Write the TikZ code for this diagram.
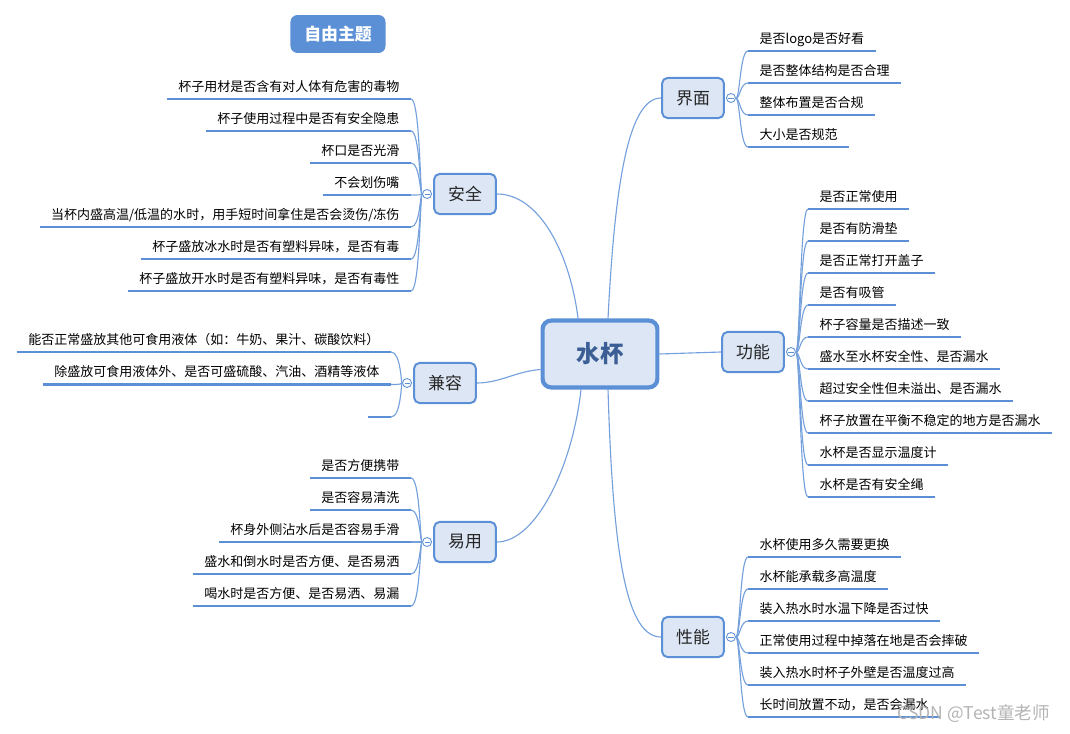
\documentclass[tikz,border=0pt]{standalone}
\usepackage{fontspec}
\setmainfont{Noto Sans CJK SC}
\usepackage{xcolor}
\usetikzlibrary{positioning}

\definecolor{boxfill}{HTML}{DCE6F4}
\definecolor{boxline}{HTML}{5B8FD6}
\definecolor{roottext}{HTML}{3B5E94}
\definecolor{marktext}{HTML}{B4B4B4}

\begin{document}
\begin{tikzpicture}[
    x=0.025cm, y=-0.025cm,
    root/.style={draw=boxline, line width=3pt, fill=boxfill, rounded corners=6pt,
      minimum width=81.6pt, minimum height=47.5pt, text=roottext,
      font=\fontsize{16.7}{20}\selectfont\bfseries},
    topic/.style={draw=boxline, line width=1.4pt, fill=boxfill, rounded corners=4pt,
      minimum width=44pt, minimum height=28.6pt, text=black!85,
      font=\fontsize{12}{14}\selectfont},
    theme/.style={fill=boxline, rounded corners=5pt, minimum width=67.6pt,
      minimum height=27pt, text=white, font=\fontsize{12}{14}\selectfont\bfseries},
    item/.style={inner xsep=8pt, inner ysep=0pt, text height=7pt, text depth=5.3pt,
      font=\fontsize{9.25}{11}\selectfont},
    uline/.style={draw=boxline, line width=2pt},
    link/.style={draw=boxline!85, line width=0.8pt},
    fold/.style={circle, draw=boxline, fill=white, line width=0.6pt, minimum size=6.4pt,
      inner sep=0pt, path picture={\draw[boxline, line width=0.5pt]
        ([xshift=-1.8pt]path picture bounding box.center) --
        ([xshift=1.8pt]path picture bounding box.center);}},
    watermark/.style={text=marktext, font=\fontsize{12.5}{14}\selectfont}
]
\useasboundingbox (0,0) rectangle (1070,734);

% Theme and root
\node[theme] (free) at (338,34) {自由主题};
\node[root] (root) at (600,354) {水杯};

% Main topics
\node[topic] (safe) at (465,194) {安全};
\node[topic] (compat) at (445,383) {兼容};
\node[topic] (easy) at (465,542) {易用};
\node[topic] (ui) at (693,98) {界面};
\node[topic] (func) at (753,352) {功能};
\node[topic] (perf) at (693,637) {性能};

% Fold markers
\node[fold, left=0.8pt of safe] (safef) {};
\node[fold, left=0.8pt of compat] (compatf) {};
\node[fold, left=0.8pt of easy] (easyf) {};
\node[fold, right=0.8pt of ui] (uif) {};
\node[fold, right=0.8pt of func] (funcf) {};
\node[fold, right=0.8pt of perf] (perff) {};

% Root to topics
\draw[link] ([xshift=5.7pt]root.north) .. controls +(7,-139) and +(-32,0) .. (ui.west);
\draw[link] ([xshift=-15.6pt]root.north) .. controls +(-8,-64) and +(43,0) .. (safe.east);
\draw[link] ([yshift=-11pt]root.west) .. controls +(-25,2) and +(23,0) .. (compat.east);
\draw[link] ([xshift=-13.5pt]root.south) .. controls +(-9,80) and +(38,0) .. (easy.east);
\draw[link] ([xshift=5.7pt]root.south) .. controls +(5,170) and +(-34,0) .. (perf.west);
\draw[link] (root.east) -- (func.west);

% Safety items
\foreach \txt [count=\i] in {杯子用材是否含有对人体有危害的毒物, 杯子使用过程中是否有安全隐患,
    杯口是否光滑, 不会划伤嘴, 当杯内盛高温/低温的水时，用手短时间拿住是否会烫伤/冻伤,
    杯子盛放冰水时是否有塑料异味，是否有毒, 杯子盛放开水时是否有塑料异味，是否有毒性} {
  \node[item, anchor=south east] (safe\i) at (411,67+32*\i) {\txt};
  \draw[uline] (safe\i.south west) -- (safe\i.south east);
  \draw[link] (safef.west) .. controls (420,195) and (420,67+32*\i) .. (safe\i.south east);
}

% Compatibility items
\foreach \txt [count=\i] in {能否正常盛放其他可食用液体（如：牛奶、果汁、碳酸饮料）,
    除盛放可食用液体外、是否可盛硫酸、汽油、酒精等液体, {}} {
  \node[item, anchor=south east] (compat\i) at (391,319.5+32.5*\i) {\txt};
  \draw[uline] (compat\i.south west) -- (compat\i.south east);
  \draw[link] (compatf.west) .. controls (401,384) and (401,319.5+32.5*\i) .. (compat\i.south east);
}

% Usability items
\foreach \txt [count=\i] in {是否方便携带, 是否容易清洗, 杯身外侧沾水后是否容易手滑,
    盛水和倒水时是否方便、是否易洒, 喝水时是否方便、是否易洒、易漏} {
  \node[item, anchor=south east] (easy\i) at (411,446+32*\i) {\txt};
  \draw[uline] (easy\i.south west) -- (easy\i.south east);
  \draw[link] (easyf.west) .. controls (420,542) and (420,446+32*\i) .. (easy\i.south east);
}

% Interface items
\foreach \txt [count=\i] in {是否logo是否好看, 是否整体结构是否合理, 整体布置是否合规, 大小是否规范} {
  \node[item, anchor=south west] (ui\i) at (748,19+32*\i) {\txt};
  \draw[uline] (ui\i.south west) -- (ui\i.south east);
  \draw[link] (uif.east) .. controls (740,99) and (740,19+32*\i) .. (ui\i.south west);
}

% Function items
\foreach \txt [count=\i] in {是否正常使用, 是否有防滑垫, 是否正常打开盖子, 是否有吸管,
    杯子容量是否描述一致, 盛水至水杯安全性、是否漏水, 超过安全性但未溢出、是否漏水,
    杯子放置在平衡不稳定的地方是否漏水, 水杯是否显示温度计, 水杯是否有安全绳} {
  \node[item, anchor=south west] (func\i) at (808,177+32*\i) {\txt};
  \draw[uline] (func\i.south west) -- (func\i.south east);
  \draw[link] (funcf.east) .. controls (800,353) and (800,177+32*\i) .. (func\i.south west);
}

% Performance items
\foreach \txt [count=\i] in {水杯使用多久需要更换, 水杯能承载多高温度, 装入热水时水温下降是否过快,
    正常使用过程中掉落在地是否会摔破, 装入热水时杯子外壁是否温度过高, 长时间放置不动，是否会漏水} {
  \node[item, anchor=south west] (perf\i) at (748,525+32*\i) {\txt};
  \draw[uline] (perf\i.south west) -- (perf\i.south east);
  \draw[link] (perff.east) .. controls (740,638) and (740,525+32*\i) .. (perf\i.south west);
}

% Watermark
\node[watermark, anchor=east] (csdn) at (1055,714) {CSDN @Test童老师};

\end{tikzpicture}
\end{document}
